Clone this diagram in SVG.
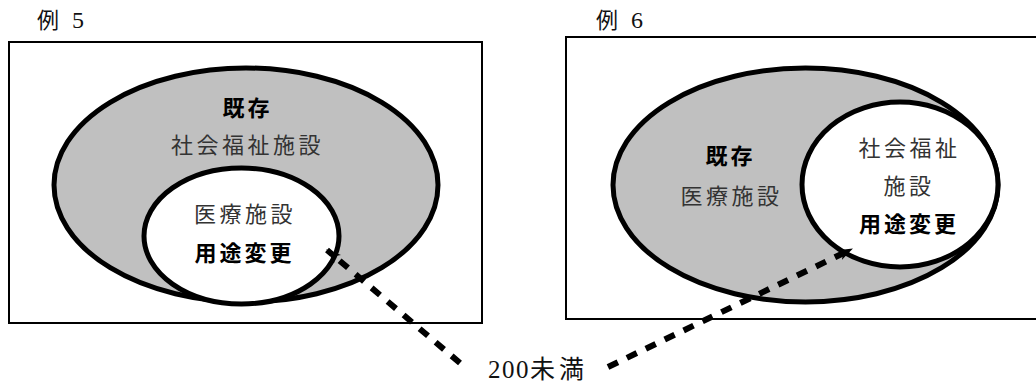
<svg xmlns="http://www.w3.org/2000/svg" width="1036" height="383" viewBox="0 0 1036 383">
<style>
.frame{fill:none;stroke:#000;stroke-width:2}
.outer{fill:#c0c0c0;stroke:#000;stroke-width:5}
.inner{fill:#fff;stroke:#000;stroke-width:5}
.t{font-family:"Liberation Serif","Noto Sans CJK JP",serif;font-size:22px;fill:#333;text-anchor:middle;letter-spacing:3.5px}
.b{font-family:"Noto Sans CJK JP",sans-serif;font-size:22px;font-weight:bold;fill:#000;text-anchor:middle;letter-spacing:3px}
.lbl{font-family:"Liberation Serif","Noto Sans CJK JP",serif;font-size:22px;fill:#111}
.dig{font-size:24px}
.conn{fill:none;stroke:#000;stroke-width:6;stroke-dasharray:11 10}
</style>
<defs>
<marker id="ah" viewBox="0 0 14 10" refX="13" refY="5" markerWidth="15" markerHeight="11" markerUnits="userSpaceOnUse" orient="auto">
<path d="M0,0 L14,5 L0,10 L4,5 z" fill="#000"/>
</marker>
</defs>
<g id="example5">
<text class="lbl" x="37" y="28">例 <tspan class="dig" x="72">5</tspan></text>
<rect class="frame" x="9" y="42" width="473" height="281"/>
<g id="ex5-existing">
<ellipse class="outer" cx="246" cy="185" rx="192" ry="117"/>
<text class="b" x="247.5" y="115.5">既存</text>
<text class="t" x="247.5" y="152.5">社会福祉施設</text>
</g>
<g id="ex5-change">
<ellipse class="inner" cx="241.5" cy="236" rx="97.5" ry="68"/>
<text class="t" x="245" y="221.5">医療施設</text>
<text class="b" x="244.5" y="260.5">用途変更</text>
</g>
</g>
<g id="example6">
<text class="lbl" x="596" y="28">例 <tspan class="dig" x="631">6</tspan></text>
<rect class="frame" x="566" y="37" width="480" height="282"/>
<g id="ex6-existing">
<ellipse class="outer" cx="805.5" cy="185" rx="192.5" ry="117"/>
<text class="b" x="730.5" y="163.5">既存</text>
<text class="t" x="731.5" y="203.5">医療施設</text>
</g>
<g id="ex6-change">
<ellipse class="inner" cx="900" cy="184.5" rx="98" ry="82.5"/>
<text class="t" x="909.5" y="155.5">社会福祉</text>
<text class="t" x="909" y="193.5">施設</text>
<text class="b" x="909" y="231.5">用途変更</text>
</g>
</g>
<g id="label-200">
<text class="lbl" x="488" y="378" style="font-size:25px;letter-spacing:1.5px">200<tspan style="letter-spacing:4px">未満</tspan></text>
</g>
<g id="connectors">
<path class="conn" d="M460,363 L327,250" marker-end="url(#ah)"/>
<path class="conn" d="M608,367 L852,249" marker-end="url(#ah)"/>
</g>
</svg>
